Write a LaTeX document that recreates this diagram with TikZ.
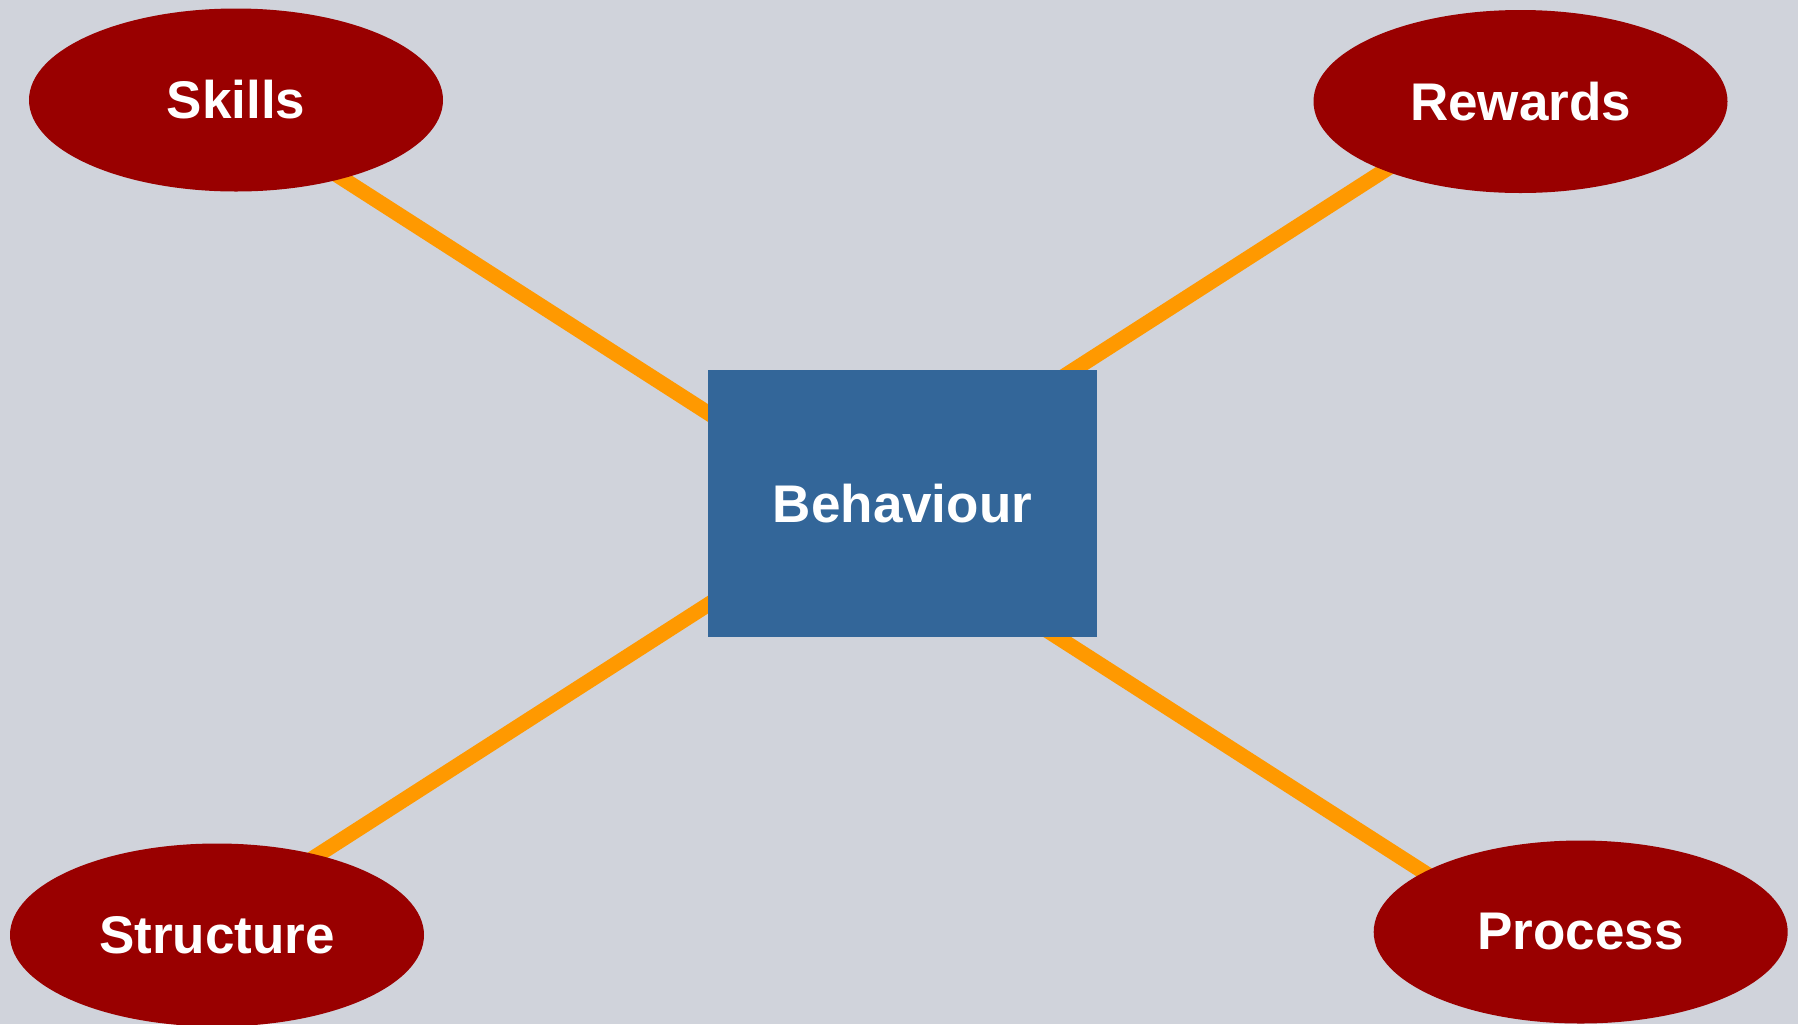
\documentclass[tikz,border=0pt]{standalone}
\usepackage{fontspec}
\setmainfont{Liberation Sans}
\usetikzlibrary{shapes.geometric}
\definecolor{bgGrey}{RGB}{208,211,219}
\definecolor{factorRed}{RGB}{153,0,0}
\definecolor{boxBlue}{RGB}{51,102,153}
\definecolor{linkOrange}{RGB}{255,153,0}

\begin{document}
\begin{tikzpicture}[x=0.5pt, y=-0.5pt,
  factor/.style={ellipse, fill=factorRed, minimum width=207pt, minimum height=91.5pt, inner sep=0pt, text=white, font=\fontsize{26.5}{30}\selectfont\bfseries},
  centre/.style={rectangle, fill=boxBlue, minimum width=194.5pt, minimum height=133.5pt, inner sep=0pt, text=white, font=\fontsize{26.5}{30}\selectfont\bfseries},
  link/.style={linkOrange, line width=7.5pt}]
\fill[bgGrey] (0,0) rectangle (1798,1024);
\useasboundingbox (0,0) rectangle (1798,1024);
\coordinate (skillsend) at (300,151.3);
\coordinate (processend) at (1450,888.9);
\coordinate (rewardsend) at (1460,122);
\coordinate (structureend) at (280,879.3);
\draw[link] (skillsend) -- (processend);
\draw[link] (rewardsend) -- (structureend);

\node[factor] (skills) at (236,100) {Skills};
\node[factor] (rewards) at (1520.5,101.5) {Rewards};
\node[factor] (structure) at (217,935) {Structure};
\node[factor] (process) at (1580.7,932) {Process};
\node[centre] (behaviour) at (902.5,503.5) {Behaviour};
\end{tikzpicture}
\end{document}
